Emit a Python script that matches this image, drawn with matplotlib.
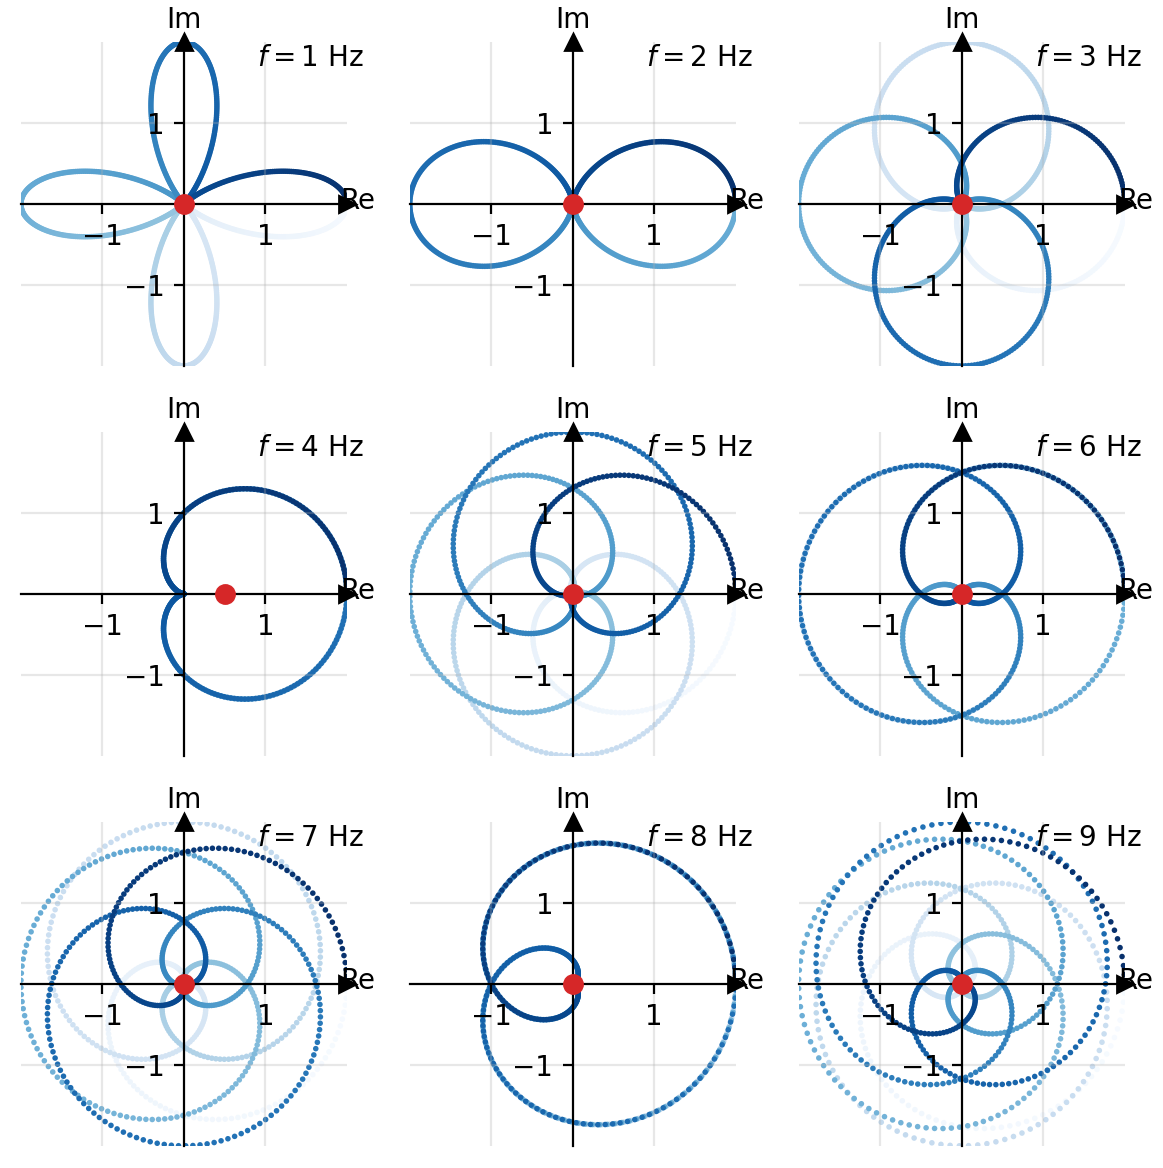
import numpy as np
import matplotlib
matplotlib.use("Agg")
import matplotlib.pyplot as plt

# signal: g(t) = 1 + cos(2*pi*4*t), wound around the origin at frequency f
freqs = [1, 2, 3, 4, 5, 6, 7, 8, 9]
signal_freq = 4
n_samples = 1000

t = np.linspace(0, 1, n_samples)
g = 1 + np.cos(2 * np.pi * signal_freq * t)

fig, axes = plt.subplots(3, 3, figsize=(5.815, 5.84), dpi=200)
fig.subplots_adjust(left=0.018, right=0.967, top=0.964, bottom=0.019,
                    wspace=0.193, hspace=0.204)

for ax, f in zip(axes.flat, freqs):
    z = g * np.exp(-2j * np.pi * f * t)
    ax.scatter(z.real, z.imag, c=t, cmap="Blues", s=4, linewidths=0)
    zm = z.mean()
    ax.plot(zm.real, zm.imag, "o", color="C3", ms=6.5, zorder=5)

    ax.set_xlim(-2, 2)
    ax.set_ylim(-2, 2)
    ax.set_xticks([-1, 1])
    ax.set_yticks([-1, 1])
    ax.grid(alpha=0.3)

    # centered spines with arrows
    ax.spines["left"].set_position(("data", 0))
    ax.spines["bottom"].set_position(("data", 0))
    ax.spines["top"].set_visible(False)
    ax.spines["right"].set_visible(False)
    ax.plot(1, 0, ">k", transform=ax.get_yaxis_transform(), clip_on=False)
    ax.plot(0, 1, "^k", transform=ax.get_xaxis_transform(), clip_on=False)

    ax.annotate("Re", xy=(1, 0), xycoords=("axes fraction", "data"),
                xytext=(4, 1.2), textcoords="offset points",
                ha="center", va="center")
    ax.annotate("Im", xy=(0, 1), xycoords=("data", "axes fraction"),
                xytext=(0, 2.8), textcoords="offset points",
                ha="center", va="bottom")
    ax.text(1.55, 1.8, r"$f = %d$ Hz" % f, ha="center", va="center")

plt.savefig("out.png", dpi=200)
